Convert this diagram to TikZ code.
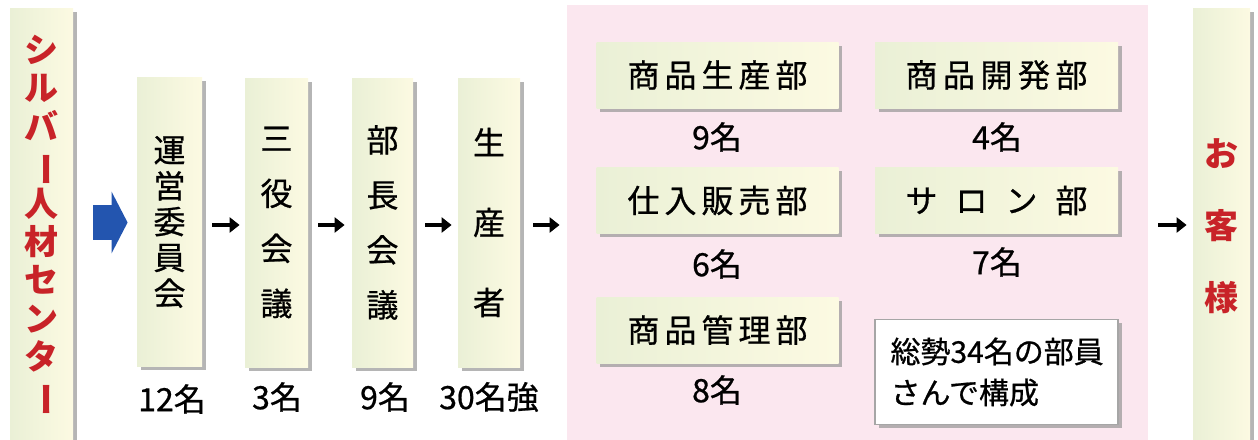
\documentclass[tikz,border=0pt]{standalone}
\usepackage{fontspec}
\setmainfont{Noto Sans CJK JP}
\newfontfamily\jpmed{Noto Sans CJK JP}[FakeBold=0.7]
\usetikzlibrary{arrows.meta,shadows}
\definecolor{boxL}{RGB}{234,240,214}
\definecolor{boxR}{RGB}{252,250,226}
\definecolor{pinkbg}{RGB}{251,231,239}
\definecolor{redtxt}{RGB}{200,35,40}
\definecolor{bluearr}{RGB}{35,85,175}
\definecolor{shadowc}{RGB}{150,150,150}
\begin{document}
\begin{tikzpicture}[x=0.5pt,y=-0.5pt,
  boxbase/.style={inner sep=0pt, left color=boxL, right color=boxR,
    drop shadow={shadow xshift=1.8pt, shadow yshift=-1.8pt, fill=shadowc, opacity=.7}},
  colbox/.style={boxbase, minimum width=31.5pt, minimum height=218pt,
    font=\fontsize{17pt}{19.2pt}\selectfont\bfseries, text=redtxt, align=center},
  vbox/.style={boxbase, minimum height=144.5pt, align=center},
  deptbox/.style={boxbase, minimum width=121pt, minimum height=33pt,
    font=\jpmed\fontsize{16pt}{18pt}\selectfont},
  cnt/.style={inner sep=0pt, font=\jpmed\fontsize{16pt}{18pt}\selectfont},
  arr/.style={-{Triangle[length=5pt,width=7.5pt]}, line width=1.6pt, black},
]
\useasboundingbox (0,0) rectangle (1258,439);
\clip (0,0) rectangle (1258,439);

% pink background region
\node[inner sep=0pt, fill=pinkbg, minimum width=290.5pt, minimum height=220pt] (dept) at (857.5,225) {};

% left column
\node[colbox] (silver) at (41.5,226)
  {シ\\ル\\バ\\\rotatebox[origin=c]{-90}{ー}\\人\\材\\セ\\ン\\タ\\\rotatebox[origin=c]{-90}{ー}};

% right column
\node[colbox, minimum width=28.5pt, font=\fontsize{17pt}{36pt}\selectfont\bfseries] (okyaku) at (1221.5,226)
  {お\\客\\様};

% vertical boxes
\node[vbox, minimum width=32.5pt, font=\jpmed\fontsize{16pt}{17.9pt}\selectfont] (unei) at (169.5,222)
  {運\\営\\委\\員\\会};
\node[vbox, minimum width=31.5pt, font=\jpmed\fontsize{16pt}{27.5pt}\selectfont] (sanyaku) at (276.5,222.5)
  {三\\役\\会\\議};
\node[vbox, minimum width=30.5pt, font=\jpmed\fontsize{16pt}{27.5pt}\selectfont] (bucho) at (382.5,222.5)
  {部\\長\\会\\議};
\node[vbox, minimum width=31pt, font=\jpmed\fontsize{16pt}{40pt}\selectfont] (seisan) at (489,222.5)
  {生\\産\\者};

% counts under vertical boxes
\node[cnt] (c1) at (172,399) {12名};
\node[cnt] (c2) at (277,397) {3名};
\node[cnt] (c3) at (385,397) {9名};
\node[cnt] (c4) at (489,397) {30名強};

% department boxes
\node[deptbox] (d1) at (717.5,75) {\makebox[90pt][s]{商\hfill 品\hfill 生\hfill 産\hfill 部}};
\node[deptbox, minimum width=121.5pt] (d2) at (996.5,75) {\makebox[91pt][s]{商\hfill 品\hfill 開\hfill 発\hfill 部}};
\node[deptbox] (d3) at (717.5,200.5) {\makebox[90pt][s]{仕\hfill 入\hfill 販\hfill 売\hfill 部}};
\node[deptbox, minimum width=121.5pt] (d4) at (996.5,200.5) {\makebox[91pt][s]{サ\hfill ロ\hfill ン\hfill 部}};
\node[deptbox] (d5) at (717.5,330) {\makebox[90pt][s]{商\hfill 品\hfill 管\hfill 理\hfill 部}};
\node[inner xsep=7.5pt, inner ysep=0pt, fill=white, draw=gray!70, line width=0.6pt,
  minimum width=121.5pt, minimum height=52.5pt, text width=106pt, align=left,
  font=\jpmed\fontsize{15pt}{20.5pt}\selectfont,
  drop shadow={shadow xshift=1.8pt, shadow yshift=-1.8pt, fill=shadowc, opacity=.7}]
  (note) at (996.5,372) {総勢34名の部員\\さんで構成};

\node[cnt] (n1) at (717,137) {9名};
\node[cnt] (n2) at (997,137) {4名};
\node[cnt] (n3) at (717,264) {6名};
\node[cnt] (n4) at (997,262) {7名};
\node[cnt] (n5) at (717,390) {8名};

% connectors
\coordinate (ay) at (0,225);
\draw[bluearr, line width=17.5pt, -{Triangle[length=8pt,width=30.5pt]},
  shorten <=10pt, shorten >=4.5pt] (silver.east |- 0,222.5) -- (unei.west |- 0,222.5);
\draw[arr, shorten <=5pt, shorten >=2.5pt] (unei.east |- ay) -- (sanyaku.west |- ay);
\draw[arr, shorten <=5pt, shorten >=3.5pt] (sanyaku.east |- ay) -- (bucho.west |- ay);
\draw[arr, shorten <=6pt, shorten >=3pt] (bucho.east |- ay) -- (seisan.west |- ay);
\draw[arr, shorten <=6.5pt, shorten >=3.5pt] (seisan.east |- ay) -- (dept.west |- ay);
\draw[arr, shorten <=5pt, shorten >=3pt] (dept.east |- ay) -- (okyaku.west |- ay);
\end{tikzpicture}
\end{document}
